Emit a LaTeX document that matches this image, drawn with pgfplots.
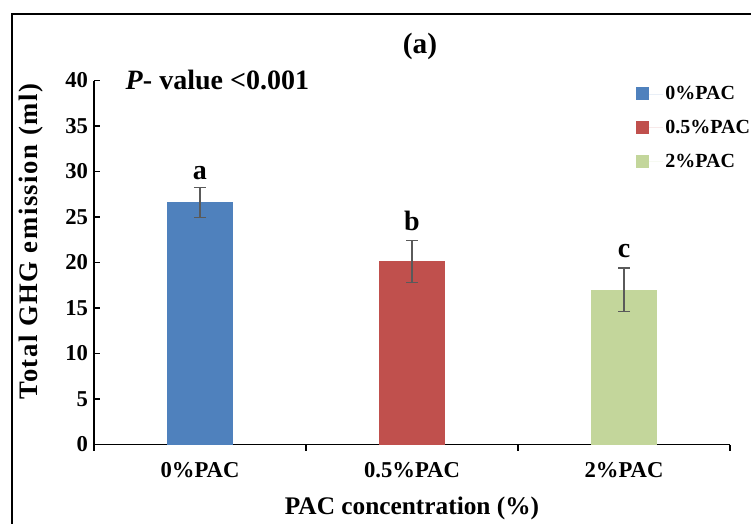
\documentclass[border=0pt]{standalone}
\usepackage{fontspec}
\setmainfont{Liberation Serif}
\newfontfamily\widefont{Liberation Serif}[LetterSpace=6]
\usepackage{pgfplots}
\pgfplotsset{compat=1.18}

\definecolor{barblue}{RGB}{79,129,189}
\definecolor{barred}{RGB}{192,80,77}
\definecolor{bargreen}{RGB}{195,214,155}
\definecolor{errgray}{RGB}{90,90,90}

\begin{document}
\begin{tikzpicture}[x=0.75pt,y=0.75pt]
% outer frame (only left and top edges fall on the page)
\draw[line width=1.6pt] (12,-30) -- (12,510) -- (800,510);

\begin{axis}[
  at={(70.5pt,59.6pt)}, anchor=south west,
  scale only axis, width=477pt, height=273pt,
  xmin=-0.5, xmax=2.5, ymin=0, ymax=40,
  axis x line*=bottom, axis y line*=left,
  axis line style={line width=0.8pt, -},
  ytick={0,5,...,40},
  xtick={-0.5,0.5,1.5,2.5},
  xticklabels={},
  extra x ticks={0,1,2},
  extra x tick labels={0\%PAC,0.5\%PAC,2\%PAC},
  extra x tick style={major tick length=0pt,
    xticklabel style={yshift=-10pt}},
  tick align=inside,
  major tick length=4.5pt,
  tick style={black, line width=0.8pt},
  /pgf/number format/assume math mode=true,
  ticklabel style={font=\fontsize{17}{20}\selectfont\bfseries},
  yticklabel style={xshift=-1pt},
  xlabel={PAC concentration (\%)},
  xlabel style={font=\fontsize{19}{22}\selectfont\bfseries, yshift=-3pt},
  ylabel={Total GHG emission (ml)},
  ylabel style={font=\widefont\fontsize{20}{23}\selectfont\bfseries,
    yshift=10pt, xshift=15.5pt},
  ybar, bar width=49.5pt, bar shift=0pt,
  legend style={at={(0.852,0.992)}, anchor=north west, draw=none, fill=none,
    font=\fontsize{15}{18}\selectfont\bfseries, row sep=10pt,
    inner sep=0pt},
  legend cell align=left,
  legend image code/.code={\fill[#1] (0pt,-4.5pt) rectangle (9.5pt,5pt);
    \path (0pt,0pt) -- (20pt,0pt);},
  clip=false,
]
\addplot[fill=barblue, draw=none,
  error bars/.cd, y dir=both, y explicit,
  error bar style={errgray, line width=0.8pt},
  error mark options={errgray, rotate=90, mark size=4.5pt, line width=0.8pt}]
  coordinates {(0,26.6) +- (0,1.65)};
\addplot[fill=barred, draw=none,
  error bars/.cd, y dir=both, y explicit,
  error bar style={errgray, line width=0.8pt},
  error mark options={errgray, rotate=90, mark size=4.5pt, line width=0.8pt}]
  coordinates {(1,20.15) +- (0,2.3)};
\addplot[fill=bargreen, draw=none,
  error bars/.cd, y dir=both, y explicit,
  error bar style={errgray, line width=0.8pt},
  error mark options={errgray, rotate=90, mark size=4.5pt, line width=0.8pt}]
  coordinates {(2,17.0) +- (0,2.4)};
\legend{0\%PAC,0.5\%PAC,2\%PAC}

% significance letters
\node[anchor=base, font=\fontsize{21}{24}\selectfont\bfseries]
  at (axis cs:0,28.25) [yshift=6pt] {a};
\node[anchor=base, font=\fontsize{21}{24}\selectfont\bfseries]
  at (axis cs:1,22.45) [yshift=7.5pt] {b};
\node[anchor=base, font=\fontsize{21}{24}\selectfont\bfseries]
  at (axis cs:2,19.4) [yshift=7.5pt] {c};
\end{axis}

% panel title and test result
\node[font=\fontsize{22}{26}\selectfont\bfseries] at (420,478) {(a)};
\node[anchor=west, font=\fontsize{21}{24}\selectfont\bfseries]
  at (121,444) {\textit{P}- value <0.001};

\pgfresetboundingbox
\useasboundingbox (0,0) rectangle (751,524);
\end{tikzpicture}
\end{document}
